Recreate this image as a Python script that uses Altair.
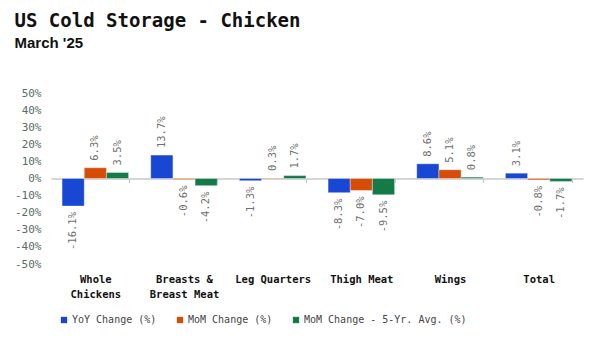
import altair as alt
import pandas as pd

categories = ["Whole Chickens", "Breasts & Breast Meat", "Leg Quarters", "Thigh Meat", "Wings", "Total"]
series = ["YoY Change (%)", "MoM Change (%)", "MoM Change - 5-Yr. Avg. (%)"]
yoy = [-16.1, 13.7, -1.3, -8.3, 8.6, 3.1]
mom = [6.3, -0.6, 0.3, -7.0, 5.1, -0.8]
mom5 = [3.5, -4.2, 1.7, -9.5, 0.8, -1.7]
colors = ["#1747D3", "#D64D08", "#137A48"]
y_ticks = [-50, -40, -30, -20, -10, 0, 10, 20, 30, 40, 50]

rows = []
for vals, s in zip([yoy, mom, mom5], series):
    for c, v in zip(categories, vals):
        rows.append({"cat": c, "series": s, "value": v, "label": f"{v:.1f}%"})
df = pd.DataFrame(rows)

MONO = "DejaVu Sans Mono"
W, H = 532, 171

x_enc = alt.X(
    "cat:N",
    sort=categories,
    scale=alt.Scale(paddingInner=0.25, paddingOuter=0.125),
    axis=alt.Axis(
        title=None,
        labelAngle=0,
        offset=-H / 2,
        labelPadding=H / 2 + 6,
        grid=False,
        domainColor="#c8c8c8",
        domainWidth=1.5,
        tickColor="#c8c8c8",
        tickSize=4,
        tickBand="extent",
        labelFont=MONO,
        labelFontWeight="bold",
        labelFontSize=10.5,
        labelColor="#111111",
        labelLineHeight=15,
        labelExpr="datum.label == 'Whole Chickens' ? ['Whole', 'Chickens'] : datum.label == 'Breasts & Breast Meat' ? ['Breasts &', 'Breast Meat'] : datum.label",
    ),
)
xoff = alt.XOffset("series:N", sort=series)
y_enc = alt.Y(
    "value:Q",
    scale=alt.Scale(domain=[-50, 50]),
    axis=alt.Axis(
        title=None,
        values=y_ticks,
        labelExpr="datum.value + '%'",
        grid=False,
        domain=False,
        ticks=False,
        labelFont=MONO,
        labelFontSize=11,
        labelColor="#5b6b66",
        labelPadding=10,
    ),
)

base = alt.Chart(df)

bars = base.mark_bar(stroke="white", strokeWidth=0.6, strokeOpacity=0.6).encode(
    x=x_enc,
    xOffset=xoff,
    y=y_enc,
    color=alt.Color(
        "series:N",
        sort=series,
        scale=alt.Scale(domain=series, range=colors),
        legend=alt.Legend(
            title=None,
            orient="none",
            direction="horizontal",
            legendX=8,
            legendY=222,
            symbolType="square",
            symbolSize=40,
            symbolStrokeWidth=0,
            labelFont=MONO,
            labelFontSize=10,
            labelColor="#444444",
            labelLimit=0,
            columnPadding=18,
            labelOffset=3,
        ),
    ),
)

pos = base.transform_filter("datum.value >= 0").mark_text(
    angle=270, align="left", baseline="middle", dx=7, font=MONO, fontSize=10.5, color="#707070"
).encode(x=x_enc, xOffset=xoff, y=y_enc, text="label:N")

neg = base.transform_filter("datum.value < 0").mark_text(
    angle=270, align="right", baseline="middle", dx=-6, font=MONO, fontSize=10.5, color="#707070"
).encode(x=x_enc, xOffset=xoff, y=y_enc, text="label:N")

chart = (
    alt.layer(bars, pos, neg)
    .properties(
        width=W,
        height=H,
        background="white",
        autosize=alt.AutoSizeParams(type="none"),
        padding={"left": 51, "top": 93, "right": 16, "bottom": 76},
        title=alt.Title(
            "US Cold Storage - Chicken",
            subtitle="March '25",
            anchor="start",
            offset=36,
            font=MONO,
            fontSize=19,
            fontWeight="bold",
            color="#111111",
            subtitleFont="Liberation Sans",
            subtitleFontSize=15,
            subtitleFontWeight="bold",
            subtitleColor="#111111",
            subtitlePadding=5,
        ),
    )
    .configure_view(stroke=None)
)

chart.save("out.html", embed_options={"renderer": "svg", "actions": False})
